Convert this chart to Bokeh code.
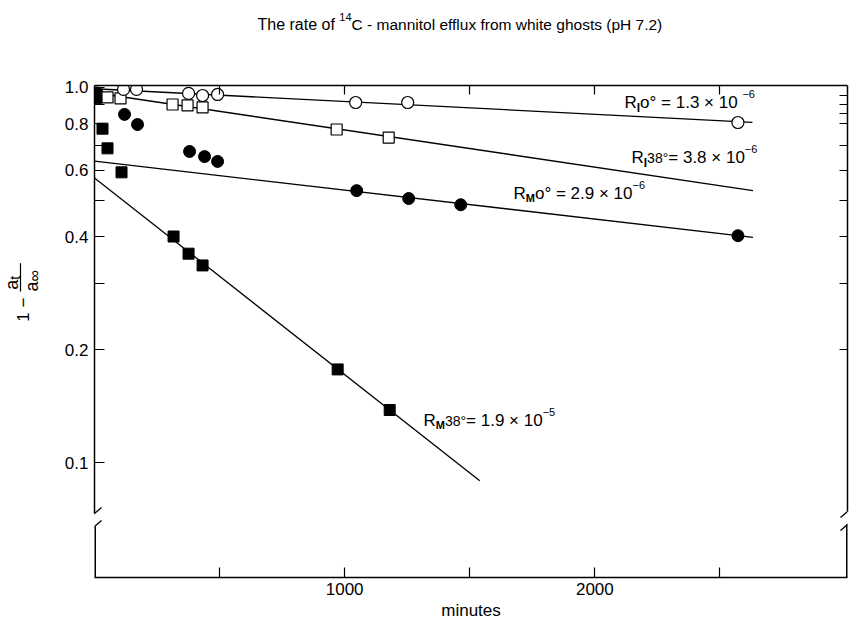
import math
from bokeh.plotting import figure
from bokeh.layouts import column, row
from bokeh.models import (Range1d, LogAxis, LinearAxis, FixedTicker, Label,
                          NumeralTickFormatter)
from bokeh.embed import file_html
from bokeh.resources import INLINE

# ---------------- data ----------------
# open circles : R_I 0°
ri0_t = [116, 168, 376, 432, 492, 1044, 1252, 2572]
ri0_v = [0.986, 0.986, 0.962, 0.950, 0.956, 0.910, 0.910, 0.805]
# open squares : R_I 38°
ri38_t = [52, 104, 312, 372, 432, 968, 1176]
ri38_v = [0.939, 0.933, 0.899, 0.894, 0.883, 0.771, 0.734]
# filled circles : R_M 0°
rm0_t = [10, 120, 172, 380, 440, 492, 1048, 1256, 1464, 2572]
rm0_v = [0.965, 0.846, 0.795, 0.674, 0.653, 0.634, 0.530, 0.505, 0.486, 0.402]
# filled squares : R_M 38°
rm38_t = [6, 32, 52, 108, 316, 376, 432, 972, 1180]
rm38_v = [0.935, 0.775, 0.687, 0.593, 0.400, 0.360, 0.335, 0.177, 0.138]

# fitted lines (end points)
ri0_fit_t = [0, 2630]
ri0_fit_v = [0.99, 0.806]
ri38_fit_t = [0, 2632]
ri38_fit_v = [0.966, 0.530]
rm0_fit_t = [0, 2632]
rm0_fit_v = [0.635, 0.398]
rm38_fit_t = [0, 1540]
rm38_fit_v = [0.573, 0.0894]

x_major = [1000, 2000]
x_minor = [500, 1500, 2500]
y_major = [0.1, 0.2, 0.4, 0.6, 0.8, 1.0]
y_minor = [0.3, 0.5, 0.7, 0.9]
y_right = [0.2, 0.3, 0.4, 0.5, 0.6, 0.7, 0.8, 0.85, 0.9, 0.95]

# ---------------- layout constants (page pixels) ----------------
FONT = "Liberation Sans"
X_MIN, X_MAX = 0, 3010
Y_MIN, Y_MAX = 0.0494, 1.01
TITLE_H = 50          # height of the title strip
YLAB_W = 48           # width of the y-label strip
F_LEFT, F_TOP = 94, 85
FW, FH = 753, 492
PW, PH = 801, 573     # main figure canvas
ML = F_LEFT - YLAB_W
MT = F_TOP - TITLE_H
MR = PW - ML - FW
MB = PH - MT - FH
LBL_DY = 5            # empirical baseline correction for labels

def tx(px):
    return X_MIN + (px - F_LEFT) / FW * (X_MAX - X_MIN)

def ty(py):
    lt, lb = math.log10(Y_MAX), math.log10(Y_MIN)
    return 10 ** (lt - (py - F_TOP) / FH * (lt - lb))

# ---------------- main figure ----------------
p = figure(width=PW, height=PH, x_range=Range1d(X_MIN, X_MAX),
           y_range=Range1d(Y_MIN, Y_MAX), y_axis_type="log",
           output_backend="svg", toolbar_location=None,
           min_border_left=ML, min_border_right=MR,
           min_border_top=MT, min_border_bottom=MB)
p.outline_line_color = None
p.grid.visible = False
p.background_fill_color = "white"
p.border_fill_color = "white"

AXW = 1.5
BRK_L = (513, 526)   # left axis break (upper, lower stroke crossing)
BRK_R = (511, 524)

for ax in p.xaxis:
    ax.ticker = FixedTicker(ticks=x_major, minor_ticks=x_minor)
    ax.major_tick_in = 10
    ax.major_tick_out = 0
    ax.minor_tick_in = 10
    ax.minor_tick_out = 0
    ax.axis_line_width = AXW
    ax.major_tick_line_width = 1.2
    ax.minor_tick_line_width = 1.2
    ax.major_label_text_font = FONT
    ax.major_label_text_font_size = "17px"
    ax.major_label_text_color = "black"
    ax.major_label_standoff = 5
    ax.axis_label = "minutes"
    ax.axis_label_text_font = FONT
    ax.axis_label_text_font_size = "17px"
    ax.axis_label_text_font_style = "normal"
    ax.axis_label_text_color = "black"
    ax.axis_label_standoff = 3

for ax in p.yaxis:
    ax.ticker = FixedTicker(ticks=y_major, minor_ticks=y_minor)
    ax.formatter = NumeralTickFormatter(format="0.0")
    ax.bounds = (ty(BRK_L[0]), Y_MAX)
    ax.major_tick_in = 10
    ax.major_tick_out = 0
    ax.minor_tick_in = 10
    ax.minor_tick_out = 0
    ax.axis_line_width = AXW
    ax.major_tick_line_width = 1.2
    ax.minor_tick_line_width = 1.2
    ax.major_label_text_font = FONT
    ax.major_label_text_font_size = "17px"
    ax.major_label_text_color = "black"
    ax.major_label_standoff = 6

# unlabelled top and right axes: only (minor) inward ticks, no tick labels
top = LinearAxis(ticker=FixedTicker(ticks=[], minor_ticks=sorted(x_major + x_minor)),
                 major_tick_line_color=None, minor_tick_in=9, minor_tick_out=0,
                 minor_tick_line_width=1.2, axis_line_width=AXW,
                 major_label_standoff=0)
p.add_layout(top, "above")
right = LogAxis(ticker=FixedTicker(ticks=[], minor_ticks=y_right),
                bounds=(ty(BRK_R[0]), Y_MAX),
                major_tick_line_color=None, minor_tick_in=8, minor_tick_out=0,
                minor_tick_line_width=1.2, axis_line_width=AXW,
                major_label_standoff=0)
p.add_layout(right, "right")

# lower stubs of the broken vertical axes and the break strokes
p.segment(x0=[X_MIN, X_MAX], y0=[ty(BRK_L[1]), ty(BRK_R[1])],
          x1=[X_MIN, X_MAX], y1=[Y_MIN, Y_MIN], line_color="black", line_width=3)
bx0, by0, bx1, by1 = [], [], [], []
for fx, (u, l) in ((F_LEFT, BRK_L), (F_LEFT + FW, BRK_R)):
    for c in (u, l):
        bx0.append(tx(fx - 7)); by0.append(ty(c + 6))
        bx1.append(tx(fx + 7)); by1.append(ty(c - 6))
p.segment(x0=bx0, y0=by0, x1=bx1, y1=by1, line_color="black", line_width=1.3)

# ---------------- fitted lines ----------------
for ft, fv in [(ri0_fit_t, ri0_fit_v), (ri38_fit_t, ri38_fit_v),
               (rm0_fit_t, rm0_fit_v), (rm38_fit_t, rm38_fit_v)]:
    p.line(ft, fv, line_color="black", line_width=1.3)

# ---------------- points ----------------
p.scatter(rm38_t, rm38_v, marker="square", size=11, fill_color="black", line_color="black")
p.scatter(rm0_t, rm0_v, marker="circle", size=12, fill_color="black", line_color="black")
p.scatter(ri38_t, ri38_v, marker="square", size=11, fill_color="white", line_color="black", line_width=1.2)
p.scatter(ri0_t, ri0_v, marker="circle", size=12, fill_color="white", line_color="black", line_width=1.2)

# ---------------- rich text helper ----------------
WID = {' ': 278, '.': 278, '=': 584, '×': 584, '−': 584, '-': 333, '°': 400,
       '(': 333, ')': 333, 'R': 722, 'I': 278, 'M': 833, 'C': 722, 'H': 722,
       'T': 611, 'a': 556, 'c': 500, 'e': 556, 'f': 278, 'g': 556, 'h': 556,
       'i': 222, 'l': 222, 'm': 833, 'n': 556, 'o': 556, 'p': 556, 'r': 333,
       's': 500, 't': 278, 'u': 556, 'w': 722, 'x': 500, '∞': 713}

def tw(s, size):
    return sum(WID.get(c, 556) for c in s) / 1000.0 * size

def rich(fig, x, y, parts, vertical=False):
    """parts: (text, size_px, baseline_shift_px, bold)"""
    off = 0.0
    for text, size, dy, bold in parts:
        kw = dict(x=x, y=y, text=text, text_font=FONT,
                  text_font_size=f"{size}px", text_color="black",
                  text_font_style="bold" if bold else "normal",
                  text_align="left", text_baseline="alphabetic")
        if vertical:
            kw.update(x_offset=-dy - LBL_DY, y_offset=off, angle=math.pi / 2)
        else:
            kw.update(x_offset=off, y_offset=dy + LBL_DY)
        fig.add_layout(Label(**kw))
        off += tw(text, size)

# rate annotations (inside the frame)
rich(p, tx(624), ty(107), [("R", 17, 0, False), ("I", 12, -5, True),
                           (" o° = 1.3 × 10", 17, 0, False), ("−6", 11, 9, False)])
rich(p, tx(631), ty(162), [("R", 17, 0, False), ("I", 12, -5, True), ("38°", 14, 0, False),
                           ("= 3.8 × 10", 17, 0, False), ("−6", 11, 9, False)])
rich(p, tx(513), ty(198), [("R", 17, 0, False), ("M", 11, -4, True), (" o°", 17, 0, False),
                           ("= 2.9 × 10", 17, 0, False), ("−6", 11, 9, False)])
rich(p, tx(423), ty(425), [("R", 17, 0, False), ("M", 11, -4, True), ("38°", 14, 0, False),
                           ("= 1.9 × 10", 17, 0, False), ("−5", 11, 9, False)])

# ---------------- title strip ----------------
def blank(w, h):
    f = figure(width=w, height=h, x_range=Range1d(0, w), y_range=Range1d(0, h),
               output_backend="svg", toolbar_location=None,
               x_axis_location=None, y_axis_location=None,
               min_border=0, min_border_left=0, min_border_right=0,
               min_border_top=0, min_border_bottom=0)
    f.outline_line_color = None
    f.grid.visible = False
    f.background_fill_color = "white"
    f.border_fill_color = "white"
    return f

tfig = blank(PW + YLAB_W, TITLE_H)
rich(tfig, 257, TITLE_H - 29,
     [("The rate of ", 16, 0, False), ("14", 11, 8, False),
      ("C - mannitol efflux from white ghosts (pH 7.2)", 15.5, 0, False)])

# ---------------- y label strip ----------------
yfig = blank(YLAB_W, PH)
def yl(py):
    return PH - (py - TITLE_H)

rich(yfig, 28, yl(325), [("1 −", 17, 0, False)], vertical=True)
rich(yfig, 16, yl(288), [("a", 18, 0, False), ("t", 14, -3, False)], vertical=True)
rich(yfig, 36, yl(290), [("a", 18, 0, False), ("∞", 16, -3, False)], vertical=True)
yfig.segment(x0=[20], y0=[yl(290)], x1=[20], y1=[yl(257)], line_color="black", line_width=1.2)

layout = column(tfig, row(yfig, p, spacing=0), spacing=0)
open("out.html", "w").write(file_html(layout, INLINE))
